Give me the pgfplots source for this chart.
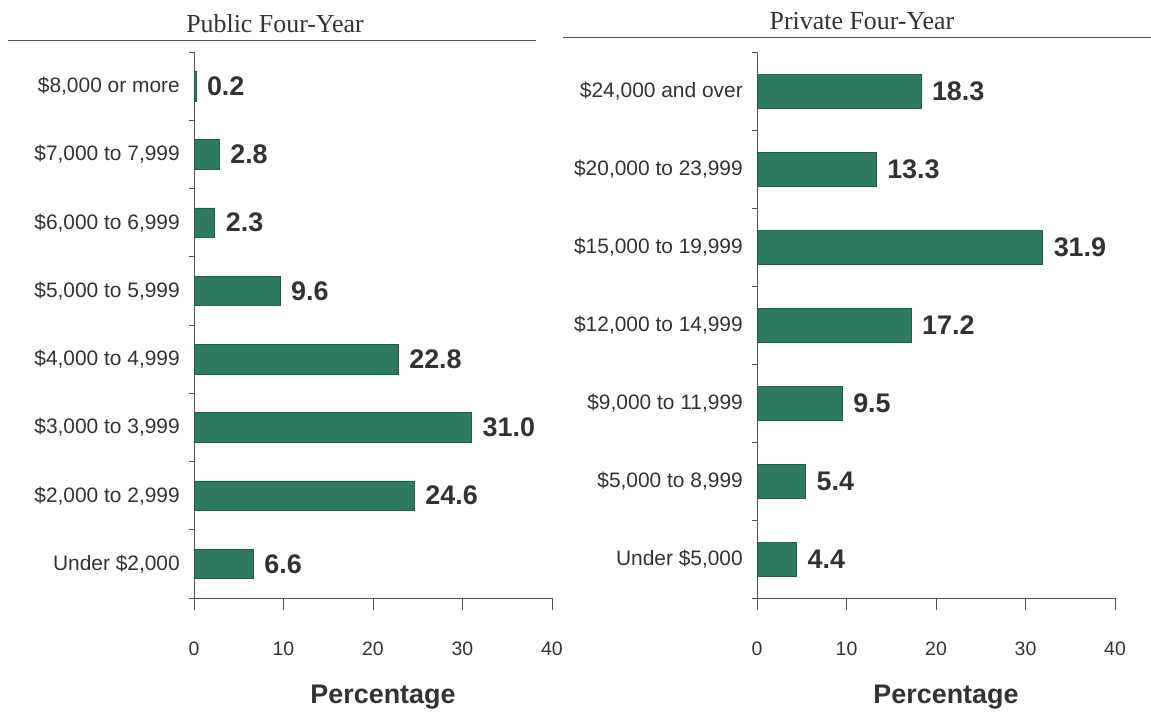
\documentclass[border=0pt]{standalone}
\usepackage{pgfplots}
\pgfplotsset{compat=1.18}
\usepackage{fontspec}
\setmainfont{Liberation Sans}
\newfontfamily\seriffont{Liberation Serif}
\definecolor{barg}{RGB}{46,122,98}
\definecolor{txt}{RGB}{50,50,50}
\definecolor{axisgray}{RGB}{85,85,85}

\pgfplotsset{
  /pgf/number format/assume math mode=true,
  mybar/.style={
    scale only axis, width=358bp, height=546bp,
    xbar, bar width=0.43,
    xmin=0, xmax=40, xtick={0,10,20,30,40},
    axis x line*=bottom, axis y line*=left,
    axis line style={-, draw=axisgray, line width=0.9bp},
    tick align=outside,
    major tick length=12bp,
    tick style={draw=axisgray, line width=0.9bp},
    ytick style={draw=none},
    xticklabel style={font=\fontsize{19.5}{19.5}\selectfont, text=txt, inner sep=0pt, yshift=-32bp},
    yticklabel style={font=\fontsize{21}{21}\selectfont, text=txt, inner sep=0pt, xshift=-2bp},
    xlabel={Percentage},
    xlabel style={font=\bfseries\fontsize{27}{27}\selectfont, text=txt, at={(axis description cs:0.5,0)}, anchor=base, yshift=-105bp, xshift=10bp},
    nodes near coords={\pgfmathprintnumber[fixed,fixed zerofill,precision=1]{\pgfplotspointmeta}},
    point meta=x,
    nodes near coords style={font=\bfseries\fontsize{27}{27}\selectfont, text=txt, anchor=west, inner sep=0pt, xshift=11bp},
    extra y tick labels={},
    extra y tick style={ytick style={draw=axisgray}, major tick length=5bp},
  }
}

\begin{document}
\begin{tikzpicture}
\path[use as bounding box] (0,0) rectangle (1151bp,713bp);

\node[font=\seriffont\fontsize{26}{26}\selectfont, text=txt, anchor=base] at (275bp,680bp) {Public Four-Year};
\draw[axisgray, line width=1bp] (8bp,672bp) -- (536bp,672bp);
\node[font=\seriffont\fontsize{26}{26}\selectfont, text=txt, anchor=base] at (862bp,683bp) {Private Four-Year};
\draw[axisgray, line width=1bp] (563bp,675bp) -- (1151bp,675bp);

\begin{axis}[mybar, at={(194bp,115bp)}, anchor=south west,
  ymin=-0.5, ymax=7.5,
  ytick={0,1,2,3,4,5,6,7},
  yticklabels={{Under \$2,000},{\$2,000 to 2,999},{\$3,000 to 3,999},{\$4,000 to 4,999},{\$5,000 to 5,999},{\$6,000 to 6,999},{\$7,000 to 7,999},{\$8,000 or more}},
  extra y ticks={-0.5,0.5,1.5,2.5,3.5,4.5,5.5,6.5,7.5},
]
\addplot[fill=barg, draw=barg!75!black, line width=0.5bp] coordinates {
  (6.6,0) (24.6,1) (31.0,2) (22.8,3) (9.6,4) (2.3,5) (2.8,6) (0.2,7)
};
\end{axis}

\begin{axis}[mybar, at={(757bp,115bp)}, anchor=south west,
  ymin=-0.5, ymax=6.5,
  ytick={0,1,2,3,4,5,6},
  yticklabels={{Under \$5,000},{\$5,000 to 8,999},{\$9,000 to 11,999},{\$12,000 to 14,999},{\$15,000 to 19,999},{\$20,000 to 23,999},{\$24,000 and over}},
  extra y ticks={-0.5,0.5,1.5,2.5,3.5,4.5,5.5,6.5},
]
\addplot[fill=barg, draw=barg!75!black, line width=0.5bp] coordinates {
  (4.4,0) (5.4,1) (9.5,2) (17.2,3) (31.9,4) (13.3,5) (18.3,6)
};
\end{axis}
\end{tikzpicture}
\end{document}
